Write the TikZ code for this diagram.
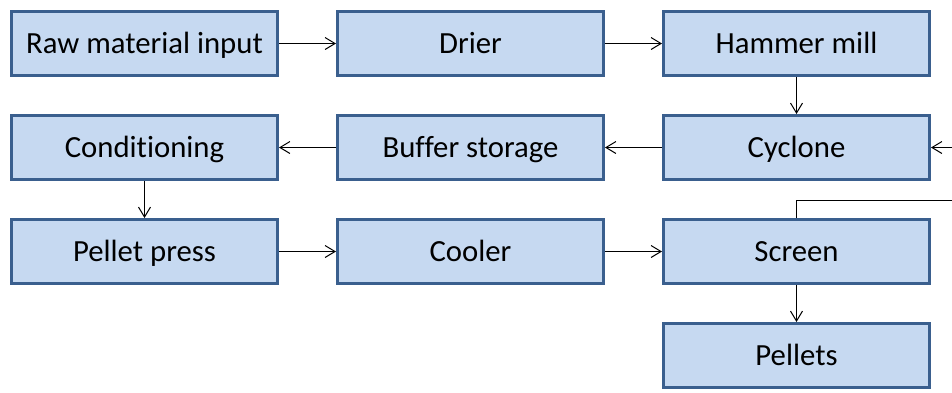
\documentclass[tikz,border=0pt]{standalone}
\usepackage{fontspec}
\setmainfont[Ligatures=NoCommon]{Carlito}
\usepackage{tikz}
\usetikzlibrary{arrows.meta, positioning}

\definecolor{boxfill}{HTML}{C6D9F1}
\definecolor{boxline}{HTML}{3A5F8E}

\begin{document}
\begin{tikzpicture}[node distance=0.74cm and 1.14cm, auto,
    stage/.style={draw=boxline, fill=boxfill, line width=0.06cm, minimum width=5.32cm, minimum height=1.28cm, inner sep=0pt, text height=0.5cm, text depth=0.1cm, font=\fontsize{17.5}{20}\selectfont},
    flow/.style={-{Straight Barb[length=0.2cm, width=0.24cm]}, line width=0.02cm}]
    \useasboundingbox (0,0) rectangle (19.04,-7.84);

    \node[stage] (raw) at (2.89,-0.87) {Raw material input};
    \node[stage, right=of raw] (drier) {Drier};
    \node[stage, right=of drier] (hammer) {Hammer mill};
    
    \node[stage, below=of hammer] (cyclone) {Cyclone};
    \node[stage, left=of cyclone] (buffer) {Buffer storage};
    \node[stage, left=of buffer] (cond) {Conditioning};
    
    \node[stage, below=of cond] (press) {Pellet press};
    \node[stage, right=of press] (cooler) {Cooler};
    \node[stage, right=of cooler] (screen) {Screen};
    
    \node[stage, below=of screen] (pellets) {Pellets};
    
    \coordinate (loop) at (19.2,-4.01);
    
    \draw[flow] (raw) -- (drier);
    \draw[flow] (drier) -- (hammer);
    \draw[flow] (hammer) -- (cyclone);
    \draw[flow] (cyclone) -- (buffer);
    \draw[flow] (buffer) -- (cond);
    \draw[flow] (cond) -- (press);
    \draw[flow] (press) -- (cooler);
    \draw[flow] (cooler) -- (screen);
    \draw[flow] (screen) -- (pellets);
    \draw[flow] (screen.north) |- (loop) |- (cyclone.east);
\end{tikzpicture}
\end{document}
